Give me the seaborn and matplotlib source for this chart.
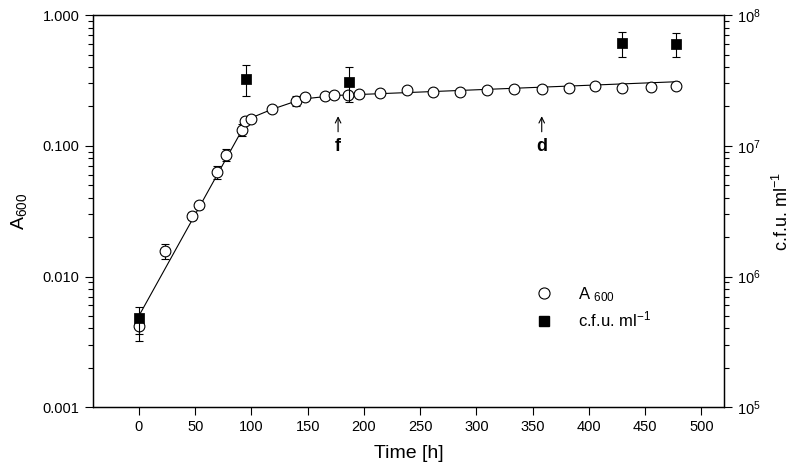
import pandas as pd
import seaborn as sns
import matplotlib
matplotlib.use('Agg')
import matplotlib.pyplot as plt
from matplotlib.lines import Line2D
from matplotlib.ticker import FuncFormatter, FixedLocator, NullFormatter

# A600 readings (left axis)
time_a600 = [0, 23, 47, 53, 69, 77, 92, 94, 100, 118, 140, 148, 165, 173, 186, 196,
             214, 238, 261, 285, 309, 333, 358, 382, 405, 429, 455, 477]
a600 = [0.0042, 0.0157, 0.029, 0.035, 0.063, 0.085, 0.133, 0.155, 0.161, 0.192, 0.221,
        0.235, 0.240, 0.243, 0.247, 0.250, 0.253, 0.267, 0.258, 0.259, 0.267, 0.270,
        0.271, 0.275, 0.285, 0.275, 0.280, 0.285]
a600_err = [0.0010, 0.0020, 0.002, 0.002, 0.007, 0.009, 0.014, 0.008, 0.008, 0.010, 0.020,
            0.010, 0.010, 0.010, 0.010, 0.010, 0.010, 0.010, 0.010, 0.010, 0.010, 0.010,
            0.010, 0.010, 0.010, 0.010, 0.010, 0.010]

# fitted growth curve
fit_time = [0, 97, 118, 145, 175, 480]
fit_a600 = [0.0050, 0.160, 0.190, 0.228, 0.243, 0.31]

# viable counts (right axis)
time_cfu = [0, 95, 187, 429, 477]
cfu = [4.8e5, 3.26e7, 3.09e7, 6.1e7, 6.0e7]
cfu_err_lo = [1.2e5, 0.86e7, 0.93e7, 1.33e7, 1.23e7]
cfu_err_hi = [1.0e5, 0.86e7, 0.93e7, 1.35e7, 1.24e7]

# arrows marking sampling points
marks = [('f', 177), ('d', 358)]

sns.set_style('ticks')
plt.rcParams['font.family'] = ['Liberation Sans', 'DejaVu Sans']
plt.rcParams['mathtext.default'] = 'regular'
plt.rcParams['text.color'] = 'black'
plt.rcParams['axes.labelcolor'] = 'black'
plt.rcParams['xtick.color'] = 'black'
plt.rcParams['ytick.color'] = 'black'
plt.rcParams['axes.edgecolor'] = 'black'

df_a = pd.DataFrame({'time': time_a600, 'a600': a600})
df_fit = pd.DataFrame({'time': fit_time, 'a600': fit_a600})
df_c = pd.DataFrame({'time': time_cfu, 'cfu': cfu})

fig = plt.figure(figsize=(8, 4.74), dpi=100)
ax = fig.add_axes([0.116, 0.141, 0.789, 0.827])
ax2 = ax.twinx()

sns.lineplot(data=df_fit, x='time', y='a600', ax=ax, color='black', linewidth=0.8,
             zorder=2)
ax.errorbar(time_a600, a600, yerr=a600_err, fmt='none', ecolor='black',
            elinewidth=0.8, capsize=3, capthick=0.8, zorder=3)
sns.scatterplot(data=df_a, x='time', y='a600', ax=ax, marker='o', s=60,
                facecolor='white', edgecolor='black', linewidth=0.8, zorder=4)

ax2.errorbar(time_cfu, cfu, yerr=[cfu_err_lo, cfu_err_hi], fmt='none', ecolor='black',
             elinewidth=0.8, capsize=3, capthick=0.8, zorder=3)
sns.scatterplot(data=df_c, x='time', y='cfu', ax=ax2, marker='s', s=45,
                color='black', edgecolor='black', zorder=4)

ax.set_yscale('log')
ax.set_ylim(0.001, 1.0)
ax.set_xlim(-41, 520)
ax.set_xticks(range(0, 501, 50))
ax.set_yticks([0.001, 0.01, 0.1, 1.0])
ax.yaxis.set_major_formatter(FuncFormatter(lambda v, p: f'{v:.3f}'))
ax.yaxis.set_minor_locator(FixedLocator([m * 10.0 ** e for e in range(-3, 0)
                                         for m in range(2, 10)]))
ax.yaxis.set_minor_formatter(NullFormatter())

ax2.set_yscale('log')
ax2.set_ylim(1e5, 1e8)
ax2.yaxis.set_minor_locator(FixedLocator([m * 10.0 ** e for e in range(5, 8)
                                          for m in range(2, 10)]))
ax2.yaxis.set_minor_formatter(NullFormatter())

ax.tick_params(axis='y', which='both', left=True, right=False)
ax2.tick_params(axis='y', which='both', left=False, right=True)
for a in (ax, ax2):
    a.tick_params(which='major', length=6, width=0.8, labelsize=10.5)
    a.tick_params(axis='y', which='minor', length=3.5, width=0.8)
    for sp in a.spines.values():
        sp.set_linewidth(0.9)
        sp.set_visible(True)

ax.set_xlabel('Time [h]', fontsize=14, labelpad=8)
ax.set_ylabel('A$_{600}$', fontsize=14, labelpad=10)
ax2.set_ylabel('c.f.u. ml$^{-1}$', fontsize=13, labelpad=8)

for lab, t in marks:
    ax.annotate('', xy=(t, 0.177), xytext=(t, 0.122),
                arrowprops=dict(arrowstyle='->', lw=0.8, color='black'))
    ax.text(t, 0.098, lab, ha='center', va='center', fontsize=13, fontweight='bold')

handles = [
    Line2D([], [], marker='o', linestyle='none', markerfacecolor='white',
           markeredgecolor='black', markeredgewidth=0.8, markersize=8),
    Line2D([], [], marker='s', linestyle='none', color='black', markersize=7),
]
ax2.legend(handles, ['A $_{600}$', 'c.f.u. ml$^{-1}$'], loc='upper left',
           bbox_to_anchor=(0.665, 0.35), frameon=False, fontsize=12,
           handletextpad=1.0, labelspacing=0.35)

fig.savefig('out.png', dpi=100)
